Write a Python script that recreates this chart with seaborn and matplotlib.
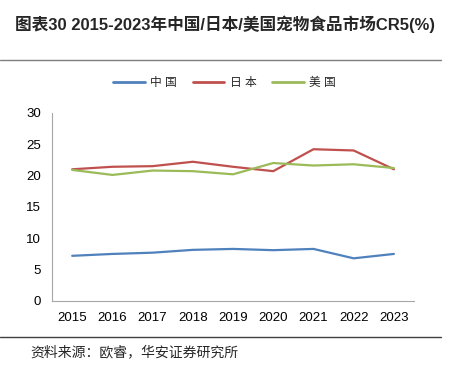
import matplotlib
matplotlib.use("Agg")
import matplotlib.pyplot as plt
import seaborn as sns
import pandas as pd
from matplotlib.lines import Line2D

years = ["2015", "2016", "2017", "2018", "2019", "2020", "2021", "2022", "2023"]
china = [7.2, 7.5, 7.7, 8.15, 8.3, 8.1, 8.3, 6.8, 7.5]
japan = [21.0, 21.4, 21.5, 22.2, 21.4, 20.7, 24.2, 24.0, 21.0]
usa = [20.9, 20.1, 20.8, 20.7, 20.2, 22.0, 21.6, 21.8, 21.2]
series_names = ["中国", "日本", "美国"]
colors = ["#4F81BD", "#C0504D", "#9BBB59"]

df = pd.DataFrame({
    "year": years * 3,
    "value": china + japan + usa,
    "country": [series_names[0]] * 9 + [series_names[1]] * 9 + [series_names[2]] * 9,
})

sns.set_style("white")
plt.rcParams["font.family"] = ["Liberation Sans", "Noto Sans CJK SC", "DejaVu Sans"]

fig = plt.figure(figsize=(4.49, 3.8), dpi=100)
ax = fig.add_axes([0.116, 0.208, 0.806, 0.495])

sns.lineplot(data=df, x="year", y="value", hue="country", palette=colors,
             linewidth=1.6, ax=ax, legend=False, sort=False)

ax.set_xlim(-0.5, 8.5)
ax.set_ylim(0, 30)
ax.set_yticks([0, 5, 10, 15, 20, 25, 30])
ax.set_xlabel("")
ax.set_ylabel("")
ax.tick_params(axis="both", length=0, labelsize=9.5, colors="#000000", pad=8)
for s in ["top", "right"]:
    ax.spines[s].set_visible(False)
for s in ["left", "bottom"]:
    ax.spines[s].set_color("#A6A6A6")
    ax.spines[s].set_linewidth(0.8)

# legend
handles = [Line2D([0], [0], color=c, lw=2) for c in colors]
fig.legend(handles, [" ".join(n) for n in series_names], loc="center",
           bbox_to_anchor=(0.5, 0.782), ncol=3, frameon=False,
           fontsize=8.5, handlelength=2.7, columnspacing=1.3, handletextpad=0.45)

# title and rules
fig.text(0.033, 0.935, "图表30 2015-2023年中国/日本/美国宠物食品市场CR5(%)",
         fontsize=12, fontweight="bold", ha="left", va="center")
fig.add_artist(Line2D([0, 0.983], [0.842, 0.842], color="#7F7F7F", lw=1.0))
fig.add_artist(Line2D([0, 0.983], [0.113, 0.113], color="#404040", lw=1.0))
fig.text(0.067, 0.073, "资料来源：欧睿，华安证券研究所", fontsize=10, ha="left", va="center")

fig.savefig("out.png", dpi=100)
